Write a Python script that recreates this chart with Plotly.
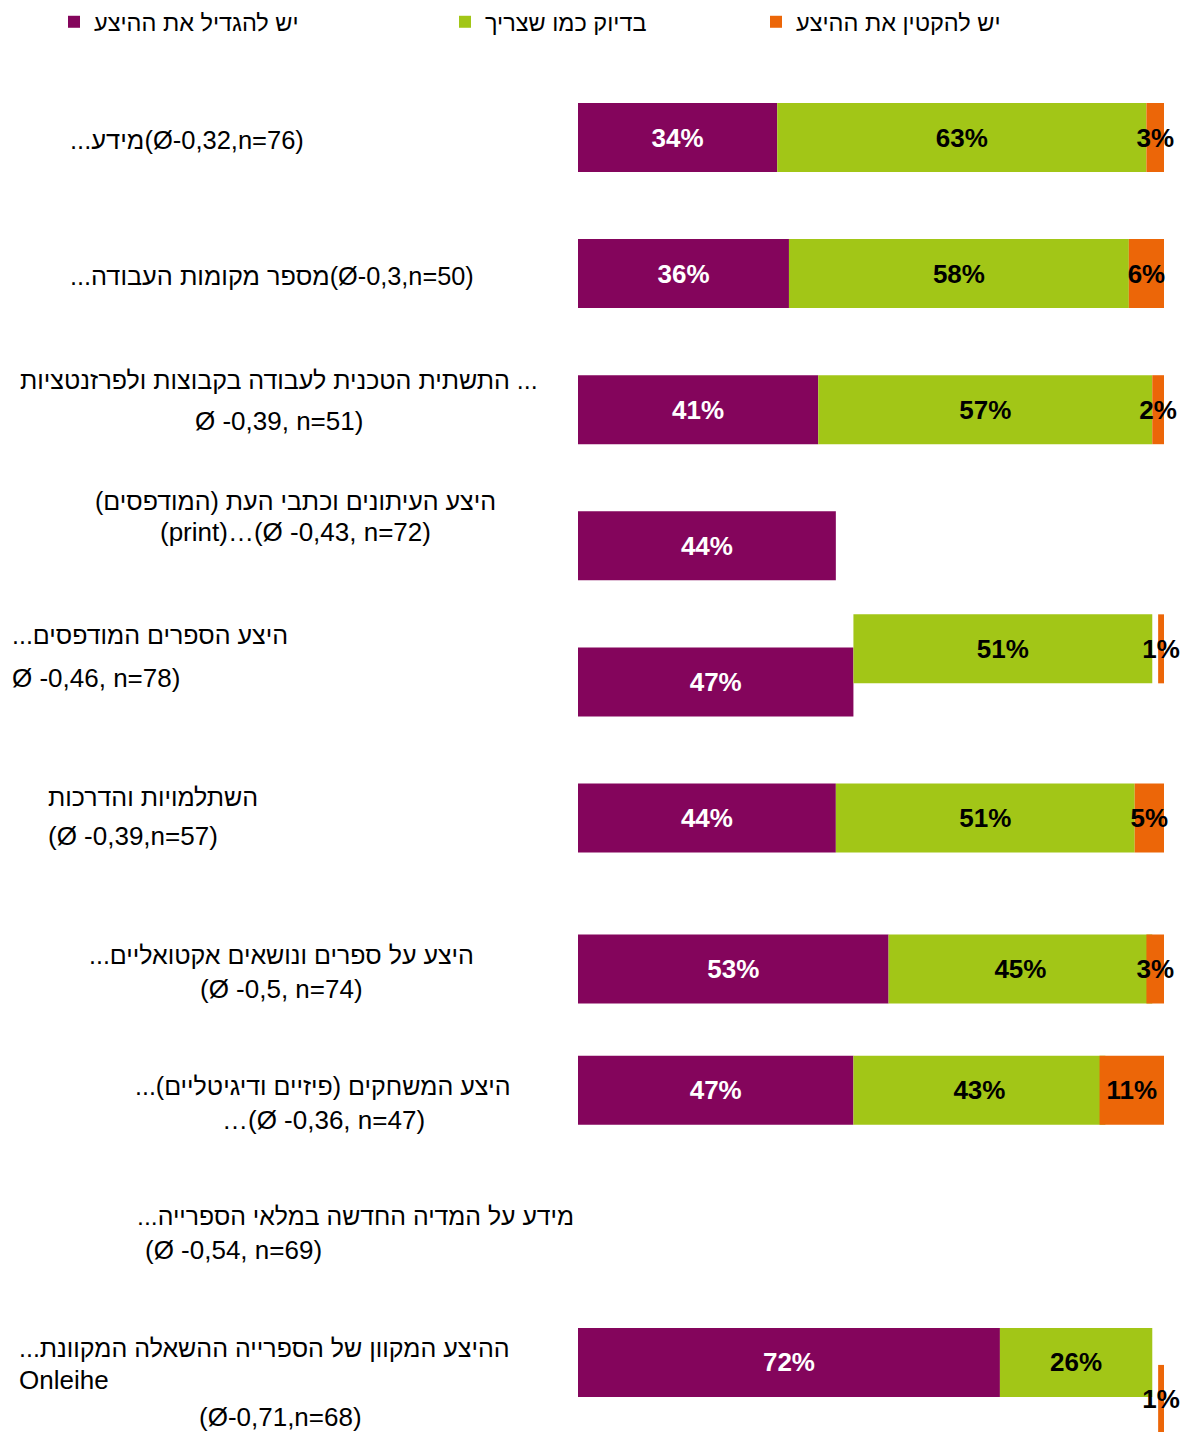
import plotly.graph_objects as go

# ---------------- data ----------------
label_lines = [
    ["...מידע(Ø-0,32,n=76)"],
    ["...מספר מקומות העבודה(Ø-0,3,n=50)"],
    ["התשתית הטכנית לעבודה בקבוצות ולפרזנטציות ...", "Ø -0,39, n=51)"],
    ["היצע העיתונים וכתבי העת (המודפסים)", "(print)…(Ø -0,43, n=72)"],
    ["...היצע הספרים המודפסים", "Ø -0,46, n=78)"],
    ["השתלמויות והדרכות", "(Ø -0,39,n=57)"],
    ["...היצע על ספרים ונושאים אקטואליים", "(Ø -0,5, n=74)"],
    ["...היצע המשחקים (פיזיים ודיגיטליים)", "…(Ø -0,36, n=47)"],
    ["...מידע על המדיה החדשה במלאי הספרייה", "(Ø -0,54, n=69)"],
    ["...ההיצע המקוון של הספרייה ההשאלה המקוונת", "Onleihe", "(Ø-0,71,n=68)"],
]
series_names = ["יש להגדיל את ההיצע", "בדיוק כמו שצריך", "יש להקטין את ההיצע"]
increase = [34, 36, 41, 44, 47, 44, 53, 47, None, 72]
exact = [63, 58, 57, None, 51, 51, 45, 43, None, 26]
decrease = [3, 6, 2, None, 1, 5, 3, 11, None, 1]

# ---------------- layout / style ----------------
W, H = 1184, 1432
PL, PR = 578, 1164            # plot area in pixels
ROW0, ROWSTEP = 137.5, 136.1  # row centre pixel positions
BAR_W = 0.507
colors = ["#84055C", "#A2C617", "#EC6608"]
text_colors = ["white", "black", "black"]
# visual row displacements (fractions of a row) present in the original slide
shift_inc = [0, 0, 0, 0, 0, 0, 0.11, 0, 0, 0]
shift_exact = [0, 0, 0, 0, -0.243, 0, 0.11, 0, 0, 0]
shift_dec = [0, 0, 0, 0, -0.243, 0, 0.11, 0, 0, 0.272]

# label line placement in pixels: (y, anchor, x, font size)
label_pos = [
    [(140, "left", 68, 25.5)],
    [(276, "left", 68, 25.3)],
    [(380, "center", 279, 25), (421, "center", 279, 26)],
    [(501, "center", 295, 25), (532, "center", 295, 26)],
    [(635, "left", 10, 25), (678, "left", 10, 26)],
    [(797, "left", 46, 25), (836, "left", 46, 26)],
    [(955, "center", 281, 25), (989, "center", 281, 26)],
    [(1086, "center", 323, 25), (1120, "center", 323, 26)],
    [(1216, "left", 135, 24.8), (1250, "left", 143, 26)],
    [(1348, "left", 17, 25), (1380, "left", 17, 26), (1417, "center", 280, 26)],
]
legend_left_px = [54, 445, 756]

FONT = "Liberation Sans, Arial, DejaVu Sans, sans-serif"

n = len(increase)
rows = list(range(n))

def pct(vals):
    return ["" if v is None else f"{v}%" for v in vals]

base_inc = [0 if v is not None else None for v in increase]
base_exact = [a if (a is not None and b is not None) else None for a, b in zip(increase, exact)]
base_dec = [100 - v if v is not None else None for v in decrease]

fig = go.Figure()
for i, (vals, base, shift) in enumerate([
    (increase, base_inc, shift_inc),
    (exact, base_exact, shift_exact),
    (decrease, base_dec, shift_dec),
]):
    fig.add_trace(go.Bar(
        y=rows, x=vals, base=base, orientation="h",
        width=BAR_W, offset=[-BAR_W / 2 + s for s in shift],
        marker=dict(color=colors[i], line=dict(width=0)),
        name=series_names[i],
        text=pct(vals), textposition="inside", insidetextanchor="middle",
        textangle=0, constraintext="none",
        textfont=dict(family=FONT, size=26, color=text_colors[i], weight="bold"),
        cliponaxis=False,
        legend=["legend", "legend2", "legend3"][i],
        hoverinfo="x+name",
    ))

y_top = -ROW0 / ROWSTEP
y_bot = (H - ROW0) / ROWSTEP

def px_x(px):
    return (px - PL) / (PR - PL)

def px_y(py):
    return 1 - py / H

annotations = []
for lines, poss in zip(label_lines, label_pos):
    for txt, (py, anchor, px, fs) in zip(lines, poss):
        annotations.append(dict(
            text=txt, xref="paper", yref="paper",
            x=px_x(px), y=px_y(py), xanchor=anchor, yanchor="middle",
            align=anchor, showarrow=False,
            font=dict(family=FONT, size=fs, color="black"),
        ))

legend_common = dict(
    orientation="h", yanchor="top", xanchor="left",
    yref="container", y=1,
    font=dict(family=FONT, size=23.5, color="black"),
    bgcolor="rgba(0,0,0,0)", borderwidth=0,
)
layouts = {}
for key, lx in zip(["legend", "legend2", "legend3"], legend_left_px):
    layouts[key] = dict(legend_common, x=px_x(lx))

fig.update_layout(
    width=W, height=H,
    margin=dict(l=PL, r=W - PR, t=0, b=0, pad=0, autoexpand=False),
    barmode="overlay",
    paper_bgcolor="white", plot_bgcolor="white",
    xaxis=dict(range=[0, 100], visible=False, showgrid=False, zeroline=False),
    yaxis=dict(range=[y_bot, y_top], visible=False, showgrid=False, zeroline=False),
    annotations=annotations,
    showlegend=True,
    **layouts,
)

fig.write_html("out.html", config={"displayModeBar": False},
               post_script="document.body.style.margin='0';")
